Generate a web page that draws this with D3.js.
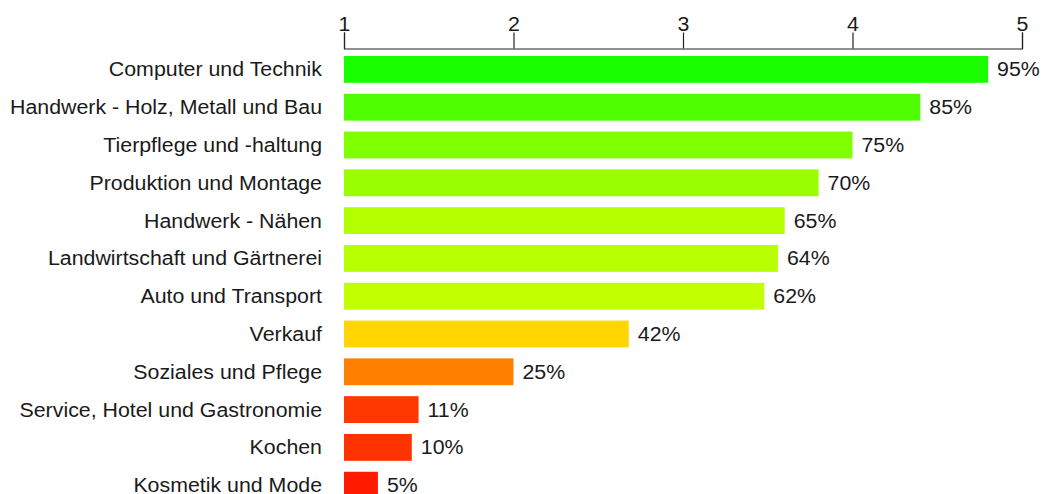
<!DOCTYPE html>
<html>
<head>
<meta charset="utf-8">
<script src="https://cdn.jsdelivr.net/npm/d3@7"></script>
<style>
  html, body { margin: 0; padding: 0; background: #fff; }
  svg text { font-family: "Liberation Sans", Arial, sans-serif; fill: #1a1a1a; }
</style>
</head>
<body>
<svg id="chart" width="1044" height="494"></svg>
<script>
// Chart data
const categories = [
  "Computer und Technik",
  "Handwerk - Holz, Metall und Bau",
  "Tierpflege und -haltung",
  "Produktion und Montage",
  "Handwerk - Nähen",
  "Landwirtschaft und Gärtnerei",
  "Auto und Transport",
  "Verkauf",
  "Soziales und Pflege",
  "Service, Hotel und Gastronomie",
  "Kochen",
  "Kosmetik und Mode"
];
// bar end on the 1-5 scale
const scores = [4.8, 4.4, 4.0, 3.8, 3.6, 3.56, 3.48, 2.68, 2.0, 1.44, 1.4, 1.2];
// percent labels next to the bars
const percents = [95, 85, 75, 70, 65, 64, 62, 42, 25, 11, 10, 5];
const tickValues = [1, 2, 3, 4, 5];

const rows = categories.map((c, i) => ({ name: c, score: scores[i], pct: percents[i] }));

const svg = d3.select("#chart");
const fontSize = 19.5;
const stretch = 1.095; // the original text is a bit wider than plain Arial

// Scales
const x = d3.scaleLinear().domain([1, 5]).range([344, 1022]);
const y = d3.scaleBand()
  .domain(categories)
  .range([50.5, 504.1])
  .paddingInner(0.29)
  .paddingOuter(0.145);

// hue runs from red (0%) to green (100%)
const hue = d3.scaleLinear().domain([0, 100]).range([0, 120]);

// Axis on top
const axis = svg.append("g")
  .attr("transform", "translate(0,48.5)")
  .call(d3.axisTop(x).tickValues(tickValues).tickSize(16).tickPadding(2).tickFormat(d3.format("d")));
axis.select(".domain").attr("stroke", "#222").attr("stroke-width", 1.2);
axis.selectAll(".tick line").attr("stroke", "#222").attr("stroke-width", 1.2);
axis.selectAll(".tick text")
  .attr("font-size", fontSize)
  .style("font-family", "'Liberation Sans', Arial, sans-serif")
  .attr("fill", "#1a1a1a")
  .attr("transform", function() {
    const ty = d3.select(this).attr("y");
    return `translate(0,${ty}) scale(${stretch},1) translate(0,${-ty})`;
  });

// Bars
svg.selectAll(".bar")
  .data(rows)
  .enter().append("rect")
  .attr("class", "bar")
  .attr("x", x(1))
  .attr("y", d => y(d.name))
  .attr("width", d => x(d.score) - x(1))
  .attr("height", y.bandwidth())
  .attr("fill", d => d3.hsl(hue(d.pct), 1, 0.5).formatHex());

// Category labels
svg.selectAll(".cat")
  .data(rows)
  .enter().append("text")
  .attr("class", "cat")
  .attr("text-anchor", "end")
  .attr("font-size", fontSize)
  .attr("transform", d => `translate(322,${y(d.name) + y.bandwidth() / 2 + fontSize * 0.36}) scale(${stretch},1)`)
  .text(d => d.name);

// Value labels
svg.selectAll(".val")
  .data(rows)
  .enter().append("text")
  .attr("class", "val")
  .attr("font-size", fontSize)
  .attr("transform", d => `translate(${x(d.score) + 9},${y(d.name) + y.bandwidth() / 2 + fontSize * 0.36}) scale(${stretch},1)`)
  .text(d => d.pct + "%");
</script>
</body>
</html>
